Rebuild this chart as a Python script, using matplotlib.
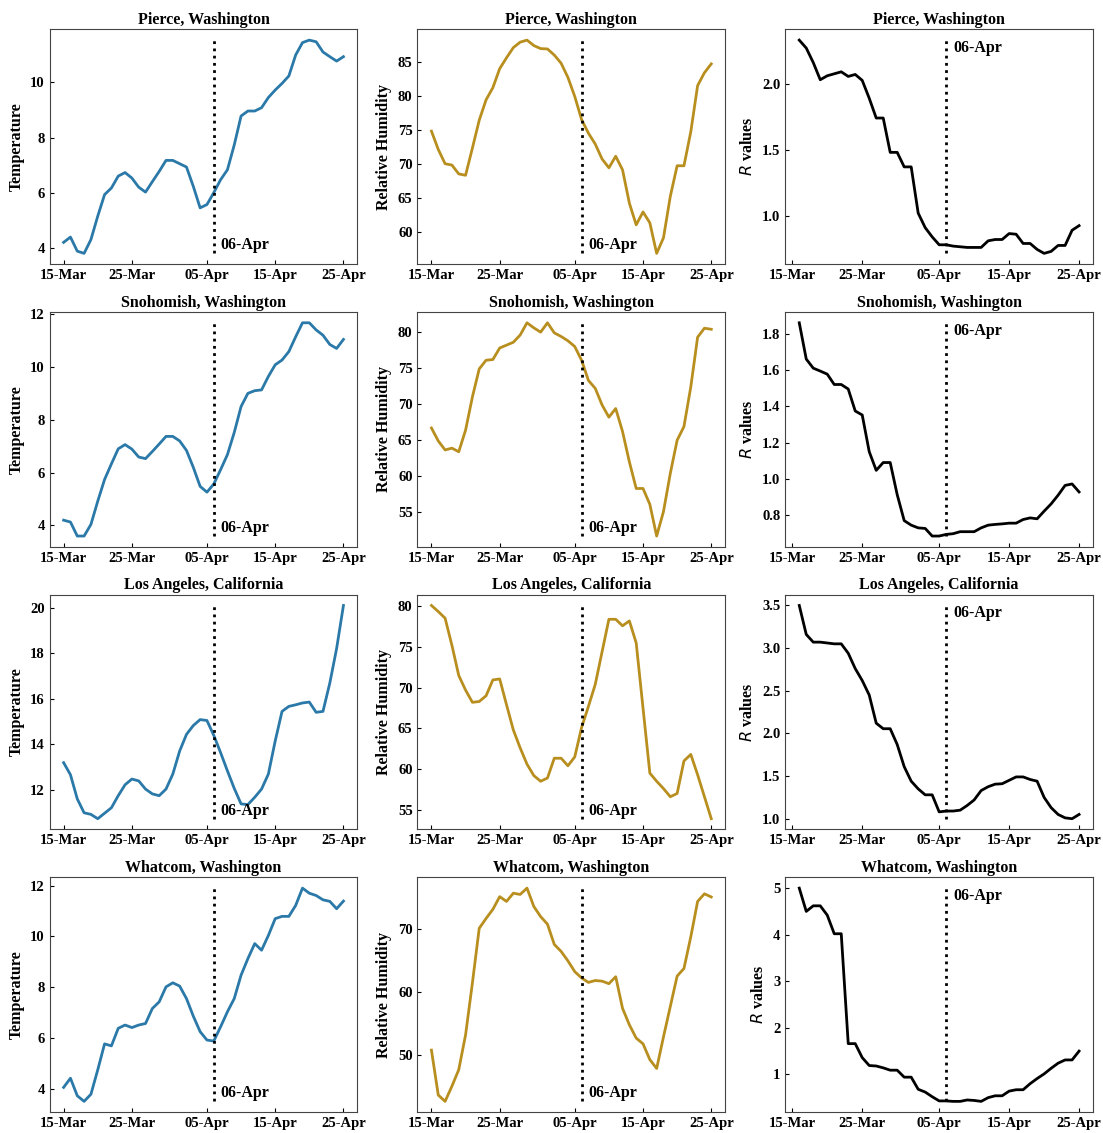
import numpy as np
import pandas as pd
import matplotlib
matplotlib.use('Agg')
import matplotlib.pyplot as plt
import matplotlib.dates as mdates
from matplotlib.ticker import MaxNLocator

plt.rcParams['font.family'] = 'Liberation Serif'

# daily data, 15-Mar to 25-Apr (R values start on 16-Mar)
dates = pd.date_range('2020-03-15', '2020-04-25', freq='D')
r_dates = dates[1:]

counties = ['Pierce, Washington', 'Snohomish, Washington',
            'Los Angeles, California', 'Whatcom, Washington']

temp_pierce = [4.2, 4.39, 3.88, 3.8, 4.3, 5.15, 5.93, 6.17, 6.6, 6.73, 6.53, 6.2, 6.02, 6.4,
               6.77, 7.17, 7.17, 7.05, 6.93, 6.23, 5.45, 5.57, 6.0, 6.47, 6.83, 7.73, 8.78, 8.96,
               8.96, 9.08, 9.45, 9.72, 9.96, 10.23, 10.99, 11.44, 11.53, 11.47, 11.1, 10.93, 10.77, 10.93]
temp_snohomish = [4.2, 4.13, 3.6, 3.6, 4.04, 4.92, 5.74, 6.33, 6.9, 7.06, 6.89, 6.59, 6.53, 6.8,
                  7.08, 7.37, 7.37, 7.2, 6.84, 6.2, 5.48, 5.26, 5.57, 6.11, 6.68, 7.52, 8.5, 9.0,
                  9.1, 9.13, 9.64, 10.08, 10.26, 10.58, 11.14, 11.67, 11.67, 11.4, 11.2, 10.85, 10.7, 11.04]
temp_la = [13.2, 12.67, 11.61, 11.0, 10.93, 10.74, 10.98, 11.22, 11.75, 12.23, 12.48, 12.4, 12.04,
           11.83, 11.75, 12.04, 12.7, 13.71, 14.44, 14.83, 15.09, 15.05, 14.4, 13.64, 12.84, 12.07,
           11.39, 11.36, 11.68, 12.04, 12.7, 14.15, 15.45, 15.67, 15.74, 15.82, 15.86, 15.41, 15.45,
           16.69, 18.21, 20.1]
temp_whatcom = [4.07, 4.43, 3.74, 3.52, 3.8, 4.76, 5.78, 5.7, 6.39, 6.52, 6.42, 6.52, 6.58, 7.17,
                7.43, 8.02, 8.18, 8.05, 7.56, 6.87, 6.26, 5.93, 5.89, 6.45, 7.04, 7.56, 8.48, 9.13,
                9.72, 9.46, 10.04, 10.7, 10.79, 10.79, 11.22, 11.9, 11.7, 11.61, 11.44, 11.38, 11.09, 11.39]

rh_pierce = [74.8, 72.1, 70.0, 69.8, 68.5, 68.3, 72.3, 76.4, 79.4, 81.2, 84.0, 85.6, 87.1, 87.9,
             88.2, 87.4, 86.95, 86.9, 86.0, 84.8, 82.7, 79.9, 76.5, 74.5, 72.9, 70.7, 69.4, 71.1,
             69.1, 64.2, 61.0, 62.9, 61.3, 56.8, 59.1, 65.2, 69.7, 69.7, 74.7, 81.5, 83.4, 84.7]
rh_snohomish = [66.7, 64.9, 63.65, 63.9, 63.4, 66.4, 71.0, 74.9, 76.1, 76.2, 77.8, 78.2, 78.6, 79.6,
                81.3, 80.6, 80.0, 81.3, 79.9, 79.4, 78.8, 78.0, 76.1, 73.3, 72.2, 69.9, 68.2, 69.4,
                66.2, 62.0, 58.3, 58.3, 56.1, 51.7, 55.1, 60.4, 65.0, 66.9, 72.4, 79.3, 80.55, 80.4]
rh_la = [80.1, 79.35, 78.54, 75.2, 71.5, 69.7, 68.2, 68.3, 69.0, 70.95, 71.07, 67.9, 64.8, 62.6,
         60.6, 59.2, 58.5, 58.9, 61.33, 61.33, 60.4, 61.5, 65.1, 67.7, 70.4, 74.4, 78.4, 78.4,
         77.6, 78.2, 75.5, 67.5, 59.5, 58.5, 57.6, 56.6, 57.0, 61.0, 61.8, 59.3, 56.6, 53.9]
rh_whatcom = [50.8, 43.7, 42.7, 45.1, 47.7, 53.2, 61.4, 70.05, 71.6, 73.05, 75.05, 74.3, 75.6, 75.4,
              76.4, 73.5, 71.9, 70.7, 67.5, 66.4, 64.9, 63.2, 62.2, 61.5, 61.8, 61.7, 61.3, 62.4,
              57.4, 54.8, 52.7, 51.8, 49.3, 47.9, 52.9, 57.7, 62.5, 63.7, 68.7, 74.3, 75.5, 75.0]

r_pierce = [2.33, 2.27, 2.16, 2.03, 2.06, 2.075, 2.09, 2.055, 2.07, 2.025, 1.89, 1.74, 1.74, 1.48,
            1.48, 1.37, 1.37, 1.02, 0.91, 0.84, 0.78, 0.78, 0.77, 0.765, 0.76, 0.76, 0.76, 0.81,
            0.82, 0.82, 0.865, 0.86, 0.79, 0.79, 0.745, 0.715, 0.73, 0.775, 0.775, 0.89, 0.925]
r_snohomish = [1.86, 1.66, 1.61, 1.594, 1.577, 1.52, 1.52, 1.495, 1.374, 1.352, 1.15, 1.047, 1.09,
               1.09, 0.913, 0.77, 0.745, 0.73, 0.727, 0.685, 0.685, 0.694, 0.698, 0.709, 0.709,
               0.709, 0.73, 0.745, 0.749, 0.752, 0.756, 0.756, 0.776, 0.785, 0.78, 0.822, 0.862,
               0.91, 0.964, 0.972, 0.928]
r_la = [3.5, 3.16, 3.07, 3.07, 3.06, 3.05, 3.05, 2.94, 2.76, 2.62, 2.45, 2.12, 2.055, 2.055, 1.87,
        1.61, 1.44, 1.35, 1.28, 1.28, 1.08, 1.09, 1.09, 1.10, 1.155, 1.22, 1.33, 1.375, 1.405,
        1.41, 1.45, 1.49, 1.49, 1.46, 1.44, 1.25, 1.13, 1.05, 1.01, 1.0, 1.05]
r_whatcom = [5.0, 4.5, 4.62, 4.62, 4.42, 4.02, 4.02, 1.66, 1.66, 1.36, 1.19, 1.18, 1.14, 1.09, 1.09,
             0.94, 0.94, 0.68, 0.62, 0.52, 0.43, 0.43, 0.42, 0.42, 0.45, 0.44, 0.42, 0.5, 0.54,
             0.54, 0.64, 0.67, 0.67, 0.8, 0.91, 1.01, 1.13, 1.24, 1.31, 1.31, 1.5]

temps = [temp_pierce, temp_snohomish, temp_la, temp_whatcom]
rhs = [rh_pierce, rh_snohomish, rh_la, rh_whatcom]
rs = [r_pierce, r_snohomish, r_la, r_whatcom]

lockdown = pd.Timestamp('2020-04-06')
tick_dates = pd.to_datetime(['2020-03-15', '2020-03-25', '2020-04-05', '2020-04-15', '2020-04-25'])

fig, axes = plt.subplots(4, 3, figsize=(11.03, 11.33), dpi=100)
plt.subplots_adjust(left=0.045, right=0.991, top=0.974, bottom=0.0185, wspace=0.195, hspace=0.205)

for row in range(4):
    cols = [(dates, temps[row], '#2a79a8', 'Temperature', 'bottom'),
            (dates, rhs[row], '#b88f1f', 'Relative Humidity', 'bottom'),
            (r_dates, rs[row], 'black', r'$R$ values', 'top')]
    for c, (x, y, color, label, pos) in enumerate(cols):
        ax = axes[row, c]
        y = np.array(y)
        ax.plot(x, y, color=color, lw=2)
        ax.vlines(lockdown, y.min(), y.max(), colors='black', linestyles=(0, (1, 1.6)), lw=2)
        if pos == 'bottom':
            ax.text(lockdown + pd.Timedelta(days=1), y.min(), '06-Apr', fontsize=11.5,
                    fontweight='bold', va='bottom', ha='left')
        else:
            ax.text(lockdown + pd.Timedelta(days=1), y.max(), '06-Apr', fontsize=11.5,
                    fontweight='bold', va='top', ha='left')
        ax.set_title(counties[row], fontsize=11.5, fontweight='bold', pad=4)
        ax.set_ylabel(label, fontsize=11.5, fontweight='bold')
        ax.set_xticks(tick_dates)
        ax.xaxis.set_major_formatter(mdates.DateFormatter('%d-%b'))
        ax.yaxis.set_major_locator(MaxNLocator(nbins=7, steps=[1, 2, 2.5, 5, 10]))
        ax.tick_params(direction='in', labelsize=10.5, length=3)
        for lab in ax.get_xticklabels() + ax.get_yticklabels():
            lab.set_fontweight('bold')
        for s in ax.spines.values():
            s.set_color('#444444')

fig.savefig('out.png', dpi=100)
